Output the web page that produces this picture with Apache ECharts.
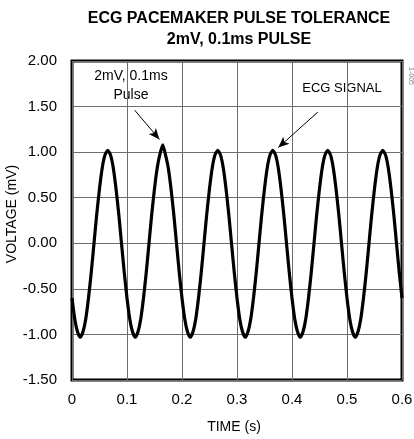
<!DOCTYPE html>
<html>
<head>
<meta charset="utf-8">
<script src="https://cdn.jsdelivr.net/npm/echarts@6/dist/echarts.min.js"></script>
<style>
  html, body { margin: 0; padding: 0; background: #fff; }
  #chart { width: 414px; height: 439px; }
</style>
</head>
<body>
<div id="chart"></div>
<script>
// time samples (s)
const timeData = [
  0.000, 0.005, 0.010, 0.015, 0.020, 0.025, 0.030, 0.035, 0.040, 0.045,
  0.050, 0.055, 0.060, 0.065, 0.070, 0.075, 0.080, 0.085, 0.090, 0.095,
  0.100, 0.105, 0.110, 0.115, 0.120, 0.125, 0.130, 0.135, 0.140, 0.145,
  0.150, 0.155, 0.160, 0.165, 0.170, 0.175, 0.180, 0.185, 0.190, 0.195,
  0.200, 0.205, 0.210, 0.215, 0.220, 0.225, 0.230, 0.235, 0.240, 0.245,
  0.250, 0.255, 0.260, 0.265, 0.270, 0.275, 0.280, 0.285, 0.290, 0.295,
  0.300, 0.305, 0.310, 0.315, 0.320, 0.325, 0.330, 0.335, 0.340, 0.345,
  0.350, 0.355, 0.360, 0.365, 0.370, 0.375, 0.380, 0.385, 0.390, 0.395,
  0.400, 0.405, 0.410, 0.415, 0.420, 0.425, 0.430, 0.435, 0.440, 0.445,
  0.450, 0.455, 0.460, 0.465, 0.470, 0.475, 0.480, 0.485, 0.490, 0.495,
  0.500, 0.505, 0.510, 0.515, 0.520, 0.525, 0.530, 0.535, 0.540, 0.545,
  0.550, 0.555, 0.560, 0.565, 0.570, 0.575, 0.580, 0.585, 0.590, 0.595,
  0.600
];
// voltage (mV) read at each time sample; pulse sits on the 2nd peak
const voltageData = [
  -0.60, -0.83, -0.97, -1.03, -0.97, -0.83, -0.60, -0.32, 0.00, 0.32,
   0.60,  0.83,  0.97,  1.02,  0.97,  0.83,  0.60,  0.32, 0.00, -0.32,
  -0.60, -0.83, -0.97, -1.03, -0.97, -0.83, -0.60, -0.32, 0.00, 0.32,
   0.60,  0.83,  0.98,  1.08,  0.97,  0.83,  0.60,  0.32, 0.00, -0.32,
  -0.60, -0.83, -0.97, -1.03, -0.97, -0.83, -0.60, -0.32, 0.00, 0.32,
   0.60,  0.83,  0.97,  1.02,  0.97,  0.83,  0.60,  0.32, 0.00, -0.32,
  -0.60, -0.83, -0.97, -1.03, -0.97, -0.83, -0.60, -0.32, 0.00, 0.32,
   0.60,  0.83,  0.97,  1.02,  0.97,  0.83,  0.60,  0.32, 0.00, -0.32,
  -0.60, -0.83, -0.97, -1.03, -0.97, -0.83, -0.60, -0.32, 0.00, 0.32,
   0.60,  0.83,  0.97,  1.02,  0.97,  0.83,  0.60,  0.32, 0.00, -0.32,
  -0.60, -0.83, -0.97, -1.03, -0.97, -0.83, -0.60, -0.32, 0.00, 0.32,
   0.60,  0.83,  0.97,  1.02,  0.97,  0.83,  0.60,  0.32, 0.00, -0.32,
  -0.60
];
// arrow endpoints in data units [time, voltage]
const pulseArrow = [[0.114, 1.46], [0.159, 1.14]];
const signalArrow = [[0.447, 1.44], [0.375, 1.05]];

const xTicks = { min: 0, max: 0.6, step: 0.1 };
const yTicks = { min: -1.5, max: 2, step: 0.5 };

const font = 'Liberation Sans, Arial, sans-serif';
const chart = echarts.init(document.getElementById('chart'));

chart.setOption({
  backgroundColor: '#fff',
  animation: false,
  grid: {
    left: 72, right: 12, top: 61, bottom: 59,
    show: true, borderColor: '#000', borderWidth: 3,
    outerBoundsMode: 'none'
  },
  xAxis: {
    type: 'value',
    min: xTicks.min, max: xTicks.max, interval: xTicks.step,
    axisLine: { show: false },
    axisTick: { show: false },
    axisLabel: {
      margin: 12, color: '#000', fontSize: 15, fontFamily: font,
      formatter: v => (v === 0 ? '0' : v.toFixed(1))
    },
    splitLine: { lineStyle: { color: '#6e6e6e', width: 1 } }
  },
  yAxis: {
    type: 'value',
    min: yTicks.min, max: yTicks.max, interval: yTicks.step,
    axisLine: { show: false },
    axisTick: { show: false },
    axisLabel: {
      margin: 15, color: '#000', fontSize: 15, fontFamily: font,
      formatter: v => v.toFixed(2)
    },
    splitLine: { lineStyle: { color: '#6e6e6e', width: 1 } }
  },
  series: [{
    type: 'line',
    data: timeData.map((t, i) => [t, voltageData[i]]),
    showSymbol: false,
    smooth: 0.2,
    lineStyle: { color: '#000', width: 3.2 },
    z: 5,
    markLine: {
      silent: true,
      symbol: ['none', 'arrow'],
      symbolSize: [7, 11],
      label: { show: false },
      lineStyle: { color: '#000', width: 1, type: 'solid' },
      data: [
        [{ coord: pulseArrow[0] }, { coord: pulseArrow[1] }],
        [{ coord: signalArrow[0] }, { coord: signalArrow[1] }]
      ]
    }
  }],
  graphic: [
    { type: 'text', x: 239, y: 11, style: { text: 'ECG PACEMAKER PULSE TOLERANCE', font: 'bold 16px ' + font, fill: '#000', textAlign: 'center' } },
    { type: 'text', x: 239, y: 32, style: { text: '2mV, 0.1ms PULSE', font: 'bold 16px ' + font, fill: '#000', textAlign: 'center' } },
    { type: 'text', x: 131, y: 69, style: { text: '2mV, 0.1ms', font: '14px ' + font, fill: '#000', textAlign: 'center' } },
    { type: 'text', x: 131, y: 88, style: { text: 'Pulse', font: '14px ' + font, fill: '#000', textAlign: 'center' } },
    { type: 'text', x: 342, y: 82, style: { text: 'ECG SIGNAL', font: '13px ' + font, fill: '#000', textAlign: 'center' } },
    { type: 'text', x: 234, y: 420, style: { text: 'TIME (s)', font: '14px ' + font, fill: '#000', textAlign: 'center' } },
    { type: 'text', x: 5, y: 214, rotation: Math.PI / 2, style: { text: 'VOLTAGE (mV)', font: '14px ' + font, fill: '#000', textAlign: 'center', textVerticalAlign: 'top' } },
    { type: 'text', x: 414, y: 76, rotation: -Math.PI / 2, style: { text: '1-005', font: '7px ' + font, fill: '#888', textAlign: 'center', textVerticalAlign: 'top' } }
  ]
});
</script>
</body>
</html>
